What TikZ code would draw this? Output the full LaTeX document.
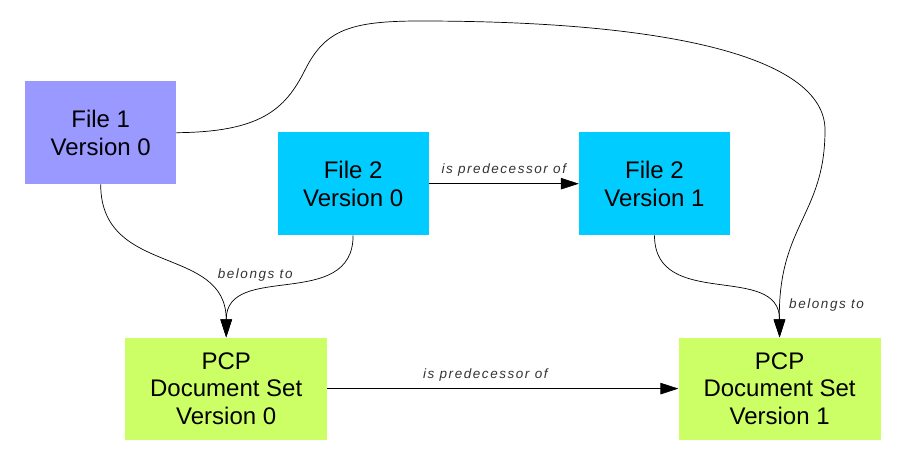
\documentclass[tikz,border=0pt]{standalone}
\usepackage{fontspec}
\setmainfont{Liberation Sans}
\usetikzlibrary{positioning,arrows.meta}
\definecolor{fileone}{HTML}{9999FF}
\definecolor{filetwo}{HTML}{00CCFF}
\definecolor{docset}{HTML}{CCFF66}
\definecolor{lblgrey}{HTML}{333333}
\tikzstyle{block} = [rectangle, align=center, inner sep=0pt, minimum height=103pt, minimum width=151pt, font=\fontsize{24}{27.5}\selectfont]
\tikzstyle{bigblock} = [block, minimum height=102pt, minimum width=202pt, fill=docset]
\tikzstyle{lbl} = [inner sep=0pt, text=lblgrey, font=\fontsize{13.5}{16}\selectfont\itshape\addfontfeature{LetterSpace=11.5}]
\tikzstyle{link} = [draw=black, line width=0.7pt, -{Triangle[length=18pt,width=11.5pt]}]

\begin{document}
\begin{tikzpicture}[x=1pt,y=1pt]
		\useasboundingbox (0,0) rectangle (908,-465);

		% anchor block
		\node[coordinate] (anchor) at (0,0) {};

		% files
		\node[block,fill=fileone,below right= 81pt and 25pt of anchor] (file1) {File 1\\Version 0};
		\node[block,fill=filetwo,below right= 51pt and 101pt of file1.north east] (file2v0) {File 2\\Version 0};
		\node[block,fill=filetwo,right= 150pt of file2v0] (file2v1) {File 2\\Version 1};

		% document sets
		\node[bigblock,below right= 153pt and 100pt of file1.south west] (set0) {PCP\\Document Set\\Version 0};
		\node[bigblock,right= 351pt of set0] (set1) {PCP\\Document Set\\Version 1};

		% join files to sets
		\draw [link] (file1.south) to[out=-90,in=90,looseness=1.2] (set0.north);
		\draw [link] (file2v0.south) to[out=-90,in=90,looseness=1.2] (set0.north);
		\draw [link] (file2v1.south) to[out=-90,in=90,looseness=1.2] (set1.north);

		% long way round from file1 to set1
		\coordinate (bendup) at (305,-70);
		\coordinate (topmid) at (420,-21);
		\coordinate (rightside) at (825,-130);
		\draw [link] (file1.east) .. controls (260,-132) and (285,-110) .. (bendup)
			.. controls (325,-30) and (350,-21) .. (topmid)
			.. controls (680,-21) and (825,-60) .. (rightside)
			.. controls (825,-215) and (778,-225) .. (set1.north);

		% predecessors
		\draw [link] (file2v0.east) -- node[lbl,above=7pt]{is predecessor of} (file2v1.west);
		\draw [link] (set0.east) -- node[lbl,above=7pt,pos=0.45]{is predecessor of} (set1.west);

		% label the memberships
		\node[lbl] (belong0) at ([shift={(29pt,62pt)}]set0.north) {belongs to};
		\node[lbl] (belong1) at ([shift={(47pt,32pt)}]set1.north) {belongs to};
	\end{tikzpicture}
\end{document}
